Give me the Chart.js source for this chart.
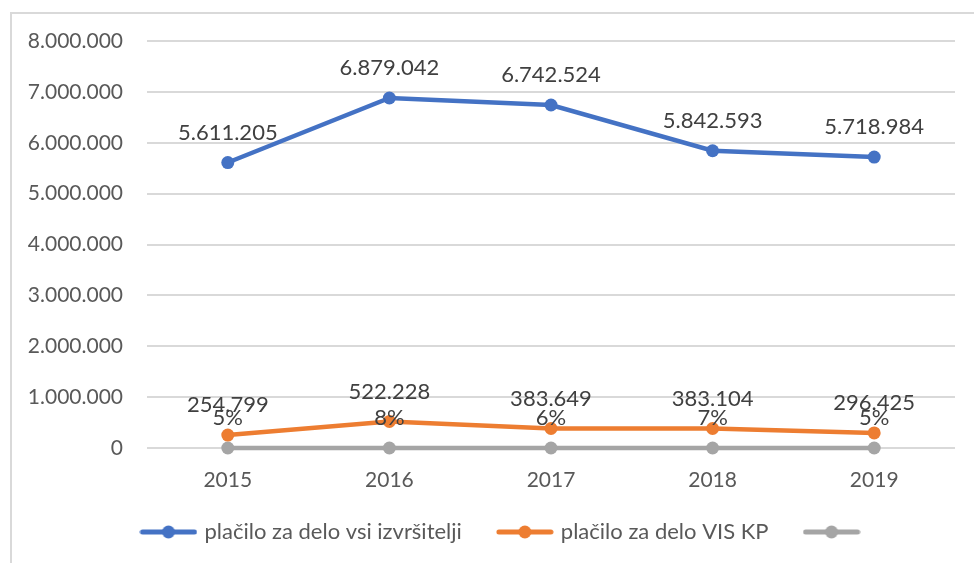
<!DOCTYPE html>
<html>
<head>
<meta charset="utf-8">
<script src="https://cdn.jsdelivr.net/npm/chart.js@4.4.1/dist/chart.umd.min.js"></script>
<style>
  html, body { margin: 0; padding: 0; background: #fff; }
  #frame {
    position: absolute; left: 10px; top: 12px;
    width: 1000px; height: 600px;
    border: 2px solid #d9d9d9;
  }
  #wrap { position: absolute; left: 0; top: 0; width: 974px; height: 563px; }
</style>
</head>
<body>
<div id="frame"></div>
<div id="wrap"><canvas id="myChart" width="974" height="563"></canvas></div>
<script>
var leta = ['2015', '2016', '2017', '2018', '2019'];
var vsiIzvrsitelji = [5611205, 6879042, 6742524, 5842593, 5718984];
var visKp = [254799, 522228, 383649, 383104, 296425];
var delez = [0.05, 0.08, 0.06, 0.07, 0.05];
var yTicks = [0, 1000000, 2000000, 3000000, 4000000, 5000000, 6000000, 7000000, 8000000];

var barve = ['#4472C4', '#ED7D31', '#A5A5A5'];
var pisava = 'Lato, "Open Sans", sans-serif';

function pikaTisoc(v) {
    return String(Math.round(v)).replace(/\B(?=(\d{3})+(?!\d))/g, '.');
}

// legend marker: line with a dot in the middle
function legendMarker(color) {
    var c = document.createElement('canvas');
    c.width = 58;
    c.height = 16;
    var ctx = c.getContext('2d');
    ctx.strokeStyle = color;
    ctx.lineWidth = 5;
    ctx.lineCap = 'round';
    ctx.beginPath();
    ctx.moveTo(3, 8);
    ctx.lineTo(55, 8);
    ctx.stroke();
    ctx.fillStyle = color;
    ctx.beginPath();
    ctx.arc(29, 8, 6.5, 0, Math.PI * 2);
    ctx.fill();
    return c;
}
var markerji = barve.map(legendMarker);

// values above every point
var oznake = {
    id: 'oznake',
    afterLayout: function (chart) {
        // legend sits a bit right of the canvas centre and a bit higher
        var lg = chart.legend;
        if (lg) {
            lg.left += 28;
            lg.right += 28;
            lg.top -= 9;
            lg.bottom -= 9;
        }
    },
    afterDatasetsDraw: function (chart) {
        var ctx = chart.ctx;
        ctx.save();
        ctx.font = '22px ' + pisava;
        ctx.fillStyle = '#404040';
        ctx.textAlign = 'center';
        ctx.textBaseline = 'middle';
        chart.data.datasets.forEach(function (ds, i) {
            var meta = chart.getDatasetMeta(i);
            meta.data.forEach(function (pt, j) {
                var v = ds.data[j];
                var txt = ds.odstotki ? Math.round(v * 100) + '%' : pikaTisoc(v);
                ctx.fillText(txt, pt.x, pt.y - 30);
            });
        });
        ctx.restore();
    }
};

var serija = function (label, data, color) {
    return {
        label: label,
        data: data,
        borderColor: color,
        backgroundColor: color,
        borderWidth: 4.5,
        pointRadius: 6.5,
        pointHoverRadius: 6.5,
        pointBorderWidth: 0,
        tension: 0,
        clip: false
    };
};

var ds3 = serija('', delez, barve[2]);
ds3.odstotki = true;

var data = {
    labels: leta,
    datasets: [
        serija('plačilo za delo vsi izvršitelji', vsiIzvrsitelji, barve[0]),
        serija('plačilo za delo VIS KP', visKp, barve[1]),
        ds3
    ]
};

var config = {
    type: 'line',
    data: data,
    plugins: [oznake],
    options: {
        responsive: false,
        animation: false,
        layout: {
            padding: { left: 0, top: 41, right: 19, bottom: 1 }
        },
        plugins: {
            tooltip: { enabled: false },
            legend: {
                position: 'bottom',
                labels: {
                    usePointStyle: true,
                    pointStyleWidth: 50,
                    boxHeight: 14,
                    padding: 38,
                    color: '#595959',
                    font: { family: pisava, size: 22 },
                    generateLabels: function (chart) {
                        var items = Chart.defaults.plugins.legend.labels.generateLabels(chart);
                        items.forEach(function (it, i) {
                            it.pointStyle = markerji[i];
                        });
                        return items;
                    }
                }
            }
        },
        scales: {
            x: {
                offset: true,
                grid: { display: false, drawTicks: false },
                border: { display: false },
                ticks: {
                    color: '#595959',
                    padding: 20,
                    font: { family: pisava, size: 21 }
                },
                afterFit: function (scale) { scale.height = 44; }
            },
            y: {
                min: 0,
                max: 8000000,
                afterBuildTicks: function (scale) {
                    scale.ticks = yTicks.map(function (v) { return { value: v }; });
                },
                grid: { color: '#d9d9d9', lineWidth: 2, drawTicks: false },
                border: { display: false },
                ticks: {
                    color: '#595959',
                    padding: 24,
                    font: { family: pisava, size: 21 },
                    callback: function (v) { return pikaTisoc(v); }
                },
                afterFit: function (scale) { scale.width = 147; }
            }
        }
    }
};

new Chart(document.getElementById('myChart'), config);
</script>
</body>
</html>
